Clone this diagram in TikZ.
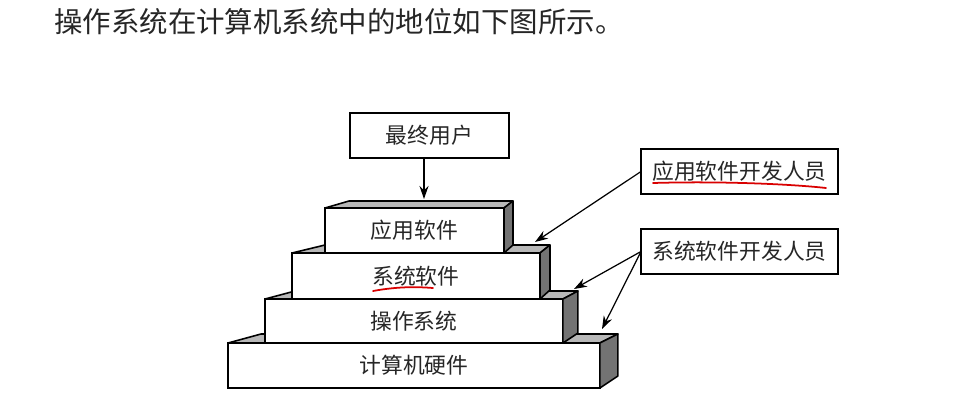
\documentclass[tikz,border=0pt]{standalone}
\usepackage{fontspec}
\newfontfamily\cjk{Noto Sans CJK SC}
\usetikzlibrary{positioning,arrows.meta,calc}

\begin{document}
\begin{tikzpicture}[
    x=0.02cm, y=-0.02cm,
    layer/.style={draw, line width=0.9pt, fill=white, inner sep=0pt, outer sep=0pt, anchor=north west, minimum height=0.9cm, text=black!85, font=\cjk\fontsize{12.4}{14}\selectfont},
    role/.style={draw, line width=0.8pt, fill=white, inner sep=0pt, outer sep=0pt, minimum width=3.94cm, minimum height=0.9cm, text=black!85, font=\cjk\fontsize{12.4}{14}\selectfont},
    topface/.style={draw, line width=0.9pt, fill=black!28, line join=round},
    sideface/.style={draw, line width=0.9pt, fill=black!55, line join=round},
    arr/.style={-{Stealth[length=2.6mm, width=1.8mm]}, line width=0.7pt},
    penmark/.style={red!85!black, line width=1pt, line cap=round}
]
\useasboundingbox (0,0) rectangle (955,416);
\fill[white] (0,0) rectangle (955,416);

\node[anchor=west, text=black!85, font=\cjk\fontsize{16.2}{20}\selectfont] (title) at (48,22) {操作系统在计算机系统中的地位如下图所示。};

% layers, bottom first
\node[layer, minimum width=7.44cm] (hw) at (228,343) {计算机硬件};
\draw[topface] (hw.north west) -- ++(33,-9) -- ($(hw.north east)+(18,-9)$) -- (hw.north east) -- cycle;
\draw[sideface] (hw.north east) -- ++(18,-9) -- ($(hw.south east)+(18,-12)$) -- (hw.south east) -- cycle;

\node[layer, minimum width=5.96cm, minimum height=0.88cm] (os) at (265,299) {操作系统};
\draw[topface] (os.north west) -- ++(30,-8) -- ($(os.north east)+(15,-8)$) -- (os.north east) -- cycle;
\draw[sideface] (os.north east) -- ++(15,-8) -- ($(os.south east)+(15,-10)$) -- (os.south east) -- cycle;

\node[layer, minimum width=4.96cm, minimum height=0.92cm] (sys) at (292,253) {系统软件};
\draw[topface] (sys.north west) -- ++(33,-8) -- ($(sys.north east)+(10,-8)$) -- (sys.north east) -- cycle;
\draw[sideface] (sys.north east) -- ++(10,-8) -- ($(sys.south east)+(10,-9)$) -- (sys.south east) -- cycle;

\node[layer, minimum width=3.58cm] (app) at (325,208) {应用软件};
\draw[topface] (app.north west) -- ++(24,-7) -- ($(app.north east)+(9,-7)$) -- (app.north east) -- cycle;
\draw[sideface] (app.north east) -- ++(9,-7) -- ($(app.south east)+(9,-8)$) -- (app.south east) -- cycle;

% people
\node[layer, minimum width=3.18cm] (user) at (350,113) {最终用户};
\node[role, anchor=north west] (devapp) at (641,149) {应用软件开发人员};
\node[role, below=0.7cm of devapp] (devsys) {系统软件开发人员};

\coordinate (apptop) at (424,199);
\coordinate (systop) at (535,242);
\coordinate (ostop) at (574,289);
\coordinate (hwtop) at (602,329);

\draw[arr] (user.south -| apptop) -- (apptop);
\draw[arr] (devapp.west) -- (systop);
\draw[arr] (devsys.west) -- (ostop);
\draw[arr] (devsys.west) -- (hwtop);

% red pen marks
\draw[penmark] (373,291) .. controls (400,286) and (420,287) .. (433,288);
\draw[penmark] (653,183) .. controls (720,181) and (790,184) .. (826,188);
\end{tikzpicture}
\end{document}
